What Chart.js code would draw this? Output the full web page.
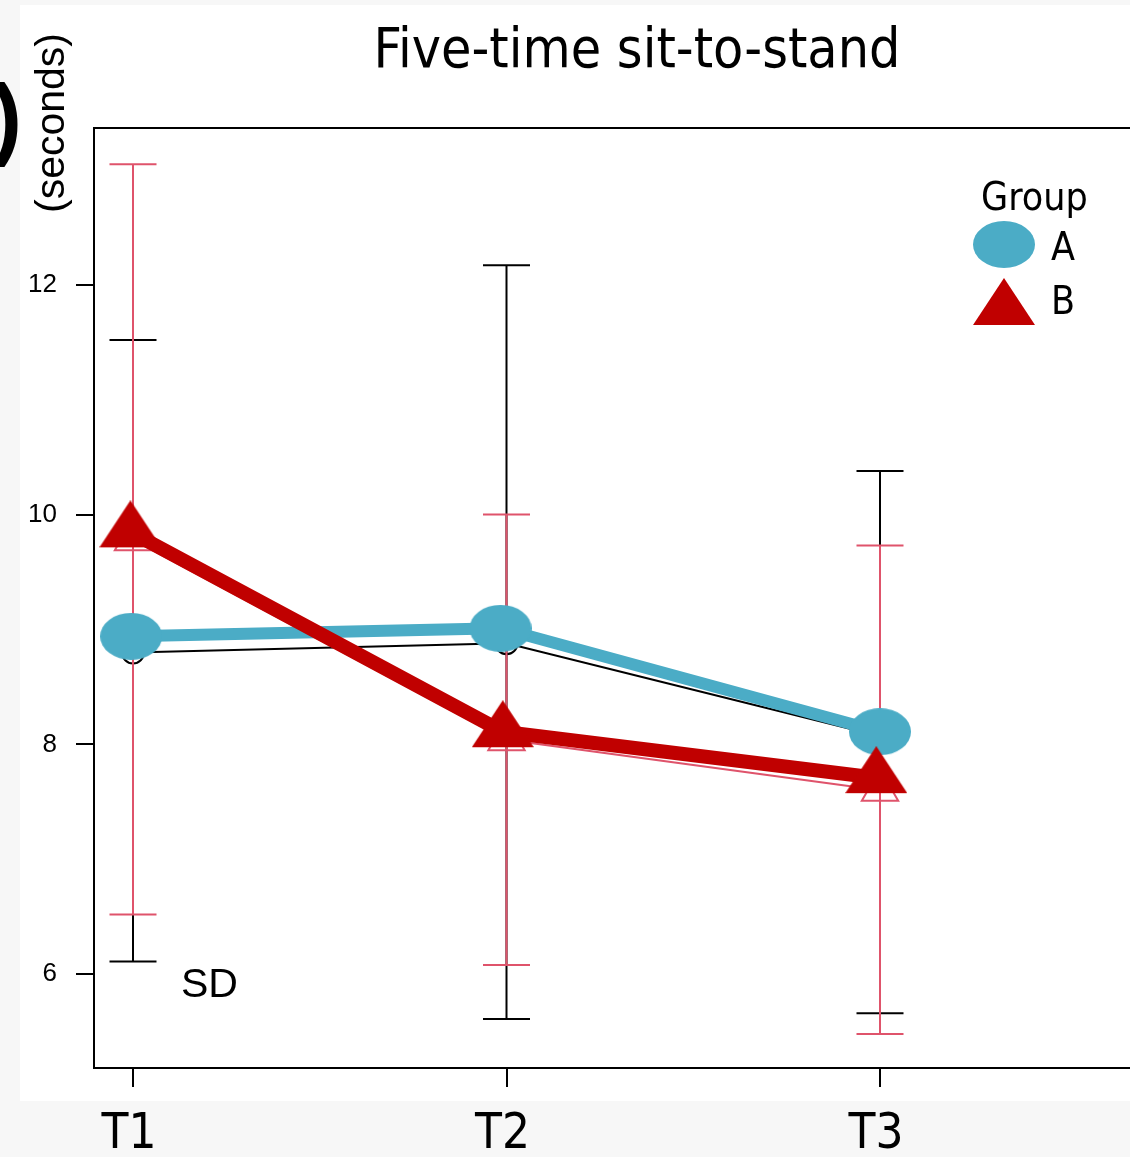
<!DOCTYPE html>
<html><head><meta charset="utf-8">
<script src="https://cdn.jsdelivr.net/npm/chart.js@4.4.0/dist/chart.umd.min.js"></script>
<style>
html,body{margin:0;padding:0;background:#f7f7f7;overflow:hidden;width:1130px;height:1157px}
canvas{display:block}
</style></head><body>
<canvas id="c" width="1160" height="1157"></canvas>
<script>
// ---- data ----
const timeLabels = ['T1', 'T2', 'T3'];
const timeIndex = [0, 1, 2];
const yTickValues = [6, 8, 10, 12];
const groupNames = ['A', 'B'];
const chartTitle = 'Five-time sit-to-stand';
const yTitle = '(seconds)';
const noteText = 'SD';

// thin series (means with SD bars)
const aMean = [8.80, 8.88, 8.07];
const bMean = [9.78, 8.04, 7.60];
const aSDHigh = [11.52, 12.17, 10.38];
const aSDLow = [6.11, 5.61, 5.66];
const bSDHigh = [13.05, 10.00, 9.73];
const bSDLow = [6.52, 6.08, 5.48];

// thick overlay series
const aOverlayX = [-0.005, 0.984, 2.0];
const aOverlay = [8.94, 9.01, 8.11];
const bOverlayX = [-0.007, 0.99, 1.99];
const bOverlay = [9.85, 8.11, 7.71];

// ---- styles ----
const BLUE = '#4BACC6', DARKRED = '#C00000', PINK = '#DF536B';
const TFONT = '"DejaVu Sans Condensed", "DejaVu Sans"';

function ellipseImg(w, h, color) {
  const c = document.createElement('canvas'); c.width = w; c.height = h;
  const x = c.getContext('2d'); x.fillStyle = color;
  x.beginPath(); x.ellipse(w / 2, h / 2, w / 2, h / 2, 0, 0, Math.PI * 2); x.fill();
  return c;
}
function triangleImg(w, th, color) {
  const h = Math.round(th * 4 / 3);
  const c = document.createElement('canvas'); c.width = w; c.height = h;
  const x = c.getContext('2d'); x.fillStyle = color;
  x.beginPath(); x.moveTo(w / 2, 0); x.lineTo(w, th); x.lineTo(0, th); x.closePath(); x.fill();
  return c;
}
const ellipseMarker = ellipseImg(62, 47, BLUE);
const triMarker = triangleImg(62, 47, DARKRED);

function xy(xs, ys) { return xs.map((x, i) => ({ x: x, y: ys[i] })); }
function bars(lo, hi) {
  const out = [];
  timeIndex.forEach((t, i) => {
    out.push({ x: t, y: lo[i] }, { x: t, y: hi[i] });
    if (i < timeIndex.length - 1) out.push({ x: t + 0.5, y: null });
  });
  return out;
}

// axis layout: first category sits 39px right of the frame, categories 373.5px apart
const pxPerUnit = 373.5;
const firstCatPx = 133;
const yMin = 5.183, yMax = 13.365;

const decor = {
  id: 'decor',
  beforeDraw(chart) {
    const ctx = chart.ctx;
    ctx.save();
    ctx.fillStyle = '#f7f7f7'; ctx.fillRect(0, 0, chart.width, chart.height);
    ctx.fillStyle = '#ffffff'; ctx.fillRect(20, 5, 1140, 1096);
    ctx.restore();
  },
  afterDraw(chart) {
    const ctx = chart.ctx, a = chart.chartArea;
    ctx.save();
    ctx.strokeStyle = '#000'; ctx.lineWidth = 2;
    ctx.strokeRect(a.left, a.top, a.right - a.left + 60, a.bottom - a.top);
    ctx.fillStyle = '#000';
    ctx.font = '55px ' + TFONT; ctx.textAlign = 'center'; ctx.textBaseline = 'alphabetic';
    ctx.fillText(chartTitle, 637, 67);
    ctx.save(); ctx.translate(64, 123); ctx.rotate(-Math.PI / 2);
    ctx.font = '41px "Liberation Sans"'; ctx.textAlign = 'center';
    ctx.fillText(yTitle, 0, 0); ctx.restore();
    ctx.font = 'bold 90px "Liberation Sans"'; ctx.textAlign = 'right';
    ctx.fillText(')', 22, 148);
    ctx.font = '41px "Liberation Sans"'; ctx.textAlign = 'left';
    ctx.fillText(noteText, 181, 997);
    ctx.font = '39px ' + TFONT; ctx.textAlign = 'left';
    ctx.fillText('Group', 981, 210);
    ctx.drawImage(ellipseMarker, 1004 - 31, 221);
    ctx.drawImage(triMarker, 1004 - 31, 278);
    ctx.fillText(groupNames[0], 1051, 260);
    ctx.fillText(groupNames[1], 1051, 314);
    ctx.restore();
  }
};

const chart = new Chart(document.getElementById('c'), {
  type: 'line',
  data: {
    datasets: [
      { label: 'B overlay', order: 0, data: xy(bOverlayX, bOverlay), borderColor: DARKRED, borderWidth: 14,
        pointStyle: triMarker, pointRadius: 30, borderJoinStyle: 'round', tension: 0 },
      { label: 'A overlay', order: 1, data: xy(aOverlayX, aOverlay), borderColor: BLUE, borderWidth: 12,
        pointStyle: ellipseMarker, pointRadius: 30, borderJoinStyle: 'round', tension: 0 },
      { label: 'B mean', order: 2, data: xy(timeIndex, bMean), borderColor: PINK, borderWidth: 2,
        pointStyle: 'triangle', pointRadius: 21, pointBorderWidth: 2, pointBorderColor: PINK,
        pointBackgroundColor: 'rgba(0,0,0,0)', tension: 0 },
      { label: 'B SD', order: 3, data: bars(bSDLow, bSDHigh), borderColor: PINK, borderWidth: 2,
        spanGaps: false, pointStyle: 'line', pointRadius: 23.5, pointBorderWidth: 2, pointBorderColor: PINK },
      { label: 'A mean', order: 4, data: xy(timeIndex, aMean), borderColor: '#000', borderWidth: 2,
        pointStyle: 'circle', pointRadius: 11, pointBorderWidth: 2, pointBorderColor: '#000',
        pointBackgroundColor: 'rgba(0,0,0,0)', tension: 0 },
      { label: 'A SD', order: 5, data: bars(aSDLow, aSDHigh), borderColor: '#000', borderWidth: 2,
        spanGaps: false, pointStyle: 'line', pointRadius: 23.5, pointBorderWidth: 2, pointBorderColor: '#000' }
    ]
  },
  options: {
    responsive: false,
    animation: false,
    events: [],
    clip: false,
    layout: { padding: { left: 0, top: 128, right: 0, bottom: 0 } },
    plugins: { legend: { display: false }, tooltip: { enabled: false }, title: { display: false } },
    scales: {
      x: {
        type: 'linear', min: -0.1, max: 2.7, bounds: 'data',
        afterBuildTicks: s => { s.ticks = timeIndex.map(v => ({ value: v })); },
        afterFit: s => { s.height = 1157 - 1068; },
        ticks: { callback: v => timeLabels[v], color: '#000', padding: 19, maxRotation: 0, autoSkip: false,
                 labelOffset: -4, font: { family: TFONT, size: 49 } },
        grid: { drawOnChartArea: false, drawTicks: true, tickLength: 19, color: '#000', lineWidth: 2 },
        border: { display: true, color: '#000', width: 2 }
      },
      y: {
        type: 'linear', min: yMin, max: yMax,
        afterBuildTicks: s => { s.ticks = yTickValues.map(v => ({ value: v })); },
        afterFit: s => { s.width = 94; },
        ticks: { color: '#000', padding: 19, font: { family: 'Liberation Sans', size: 26 } },
        grid: { drawOnChartArea: false, drawTicks: true, tickLength: 18, color: '#000', lineWidth: 2 },
        border: { display: true, color: '#000', width: 2 }
      }
    }
  },
  plugins: [decor]
});

// set the x range from the laid-out plot width so categories land at the intended spacing
(function fitX() {
  const a = chart.chartArea;
  chart.options.scales.x.min = (a.left - firstCatPx) / pxPerUnit;
  chart.options.scales.x.max = (a.right - firstCatPx) / pxPerUnit;
  chart.update('none');
})();
</script>
</body></html>
